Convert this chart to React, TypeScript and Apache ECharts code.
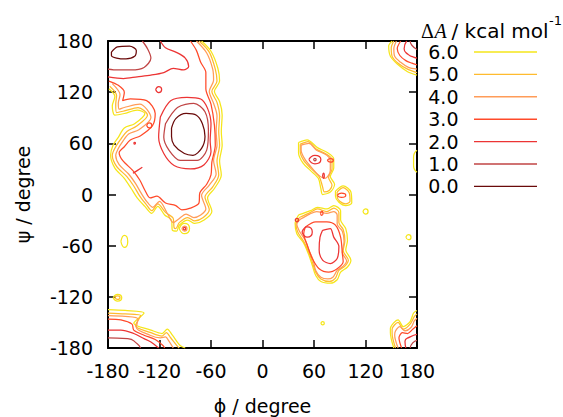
import React, { useEffect, useRef } from 'react';
import * as echarts from 'echarts';

// contour levels (kcal/mol) and their colours, top to bottom in the key
const levels = ['6.0', '5.0', '4.0', '3.0', '2.0', '1.0', '0.0'];
const levelColors = ['#f5e61a', '#ffbb2e', '#ff9c58', '#ff4a2a', '#ec3434', '#c04545', '#6a0a0a'];

const axisMin = -180;
const axisMax = 180;
const axisStep = 60;

// ---- big beta / alpha-R region (phi, psi in degrees) ----
const big6 = [[-71,180],[-60,168],[-52,148],[-50,133],[-56,121],[-50,109],[-47,93],[-48,74],[-47,58],[-50,39],[-48,23],[-56,7],[-64,-4],[-59,-20],[-68,-30],[-79,-34],[-87,-30],[-97,-36],[-100,-43],[-105,-42],[-106,-30],[-114,-24],[-122,-14],[-129,-22],[-137,-14],[-146,-4],[-153,7],[-161,19],[-172,31],[-177,46],[-174,58],[-168,67],[-161,78],[-149,83],[-137,95],[-146,99],[-161,95],[-172,93],[-175,104],[-172,115],[-179,124]];
const big5 = [[-74,180],[-62,167],[-55,147],[-53,133],[-59,121],[-53,108],[-50,92],[-51,74],[-50,58],[-53,39],[-51,23],[-58,9],[-67,-3],[-62,-18],[-69,-27],[-79,-31],[-87,-27],[-97,-33],[-101,-40],[-103,-39],[-104,-28],[-113,-21],[-122,-11],[-129,-19],[-136,-11],[-143,-2],[-150,10],[-158,21],[-170,33],[-175,46],[-171,56],[-165,65],[-158,74],[-147,80],[-134,93],[-145,102],[-161,98],[-170,96],[-171,106],[-170,116],[-178,127]];
const big4 = [[-77,180],[-65,166],[-58,147],[-57,134],[-62,121],[-57,107],[-53,92],[-54,74],[-53,58],[-57,40],[-54,24],[-62,11],[-71,-1],[-66,-17],[-72,-24],[-80,-27],[-89,-23],[-98,-29],[-104,-33],[-111,-22],[-120,-8],[-128,-15],[-135,-8],[-141,1],[-148,13],[-156,24],[-167,35],[-171,46],[-168,54],[-163,62],[-156,71],[-144,76],[-130,90],[-143,106],[-161,102],[-167,100],[-168,107],[-166,117],[-175,130]];
const big3 = [[-84,180],[-77,169],[-72,155],[-66,143],[-66,124],[-60,106],[-56,81],[-55,58],[-59,38],[-60,23],[-65,12],[-73,2],[-74,-10],[-84,-16],[-94,-18],[-101,-13],[-113,-10],[-123,-2],[-131,-4],[-137,5],[-143,17],[-151,28],[-163,40],[-167,49],[-161,56],[-154,64],[-142,69],[-128,81],[-125,95],[-135,110],[-154,112],[-163,110],[-161,120],[-168,128],[-179,133]];
const ring2 = [[-119,91],[-107,110],[-88,114],[-72,112],[-64,101],[-60,83],[-61,63],[-60,50],[-68,35],[-84,30],[-103,34],[-115,48],[-121,67],[-119,91]];
const upper2 = [[-180,138],[-162,136],[-146,138],[-130,140],[-115,143],[-104,148],[-92,146],[-86,150],[-90,160],[-101,167],[-113,172],[-119,180]];
const stroke2 = [[-151,25],[-146,28],[-140,32]];
const ring1 = [[-113,83],[-99,102],[-80,107],[-67,97],[-63,75],[-65,52],[-76,40],[-96,40],[-109,52],[-115,67],[-113,83]];
const arc1 = [[-180,147],[-169,146],[-153,146],[-138,149],[-130,160],[-134,171],[-140,180]];
const oval0Top = [[-176,167],[-169,173],[-155,174],[-147,169],[-149,162],[-159,159],[-170,160],[-176,163],[-176,167]];
const oval0Mid = [[-106,78],[-101,89],[-89,95],[-77,93],[-70,83],[-67,68],[-71,54],[-81,46],[-91,48],[-103,58],[-106,68],[-106,78]];

// ---- corners ----
const tr6 = [[151,180],[147,174],[149,162],[157,153],[169,144],[180,140]];
const tr5 = [[153,180],[150,172],[151,162],[158,154],[169,147],[180,143]];
const tr4 = [[156,180],[153,171],[154,162],[161,155],[170,149],[180,147]];
const tr3 = [[161,180],[157,171],[160,163],[167,157],[174,154],[180,152]];
const tr2 = [[168,180],[165,171],[170,164],[176,161],[180,160]];
const tr1 = [[172,180],[174,175],[180,170]];
const br6 = [[153,-180],[149,-162],[149,-157],[158,-147],[164,-155],[172,-149],[176,-139],[180,-136]];
const br5 = [[155,-180],[151,-163],[151,-158],[158,-150],[164,-158],[172,-152],[177,-143],[180,-140]];
const br4 = [[158,-180],[154,-165],[155,-160],[160,-155],[166,-160],[173,-156],[177,-148],[180,-145]];
const br3 = [[162,-180],[159,-168],[163,-162],[169,-163],[175,-158],[180,-154]];
const br2 = [[167,-180],[166,-172],[172,-167],[180,-164]];
const br1 = [[172,-180],[175,-174],[180,-171]];
const bl6 = [[-180,-135],[-160,-136],[-138,-139],[-150,-151],[-130,-159],[-117,-163],[-111,-158],[-105,-165],[-96,-177],[-90,-180]];
const bl5 = [[-180,-139],[-160,-140],[-142,-142],[-148,-154],[-130,-162],[-117,-166],[-112,-162],[-107,-168],[-99,-178],[-97,-180]];
const bl4 = [[-180,-142],[-160,-143],[-145,-146],[-147,-156],[-131,-165],[-119,-168],[-113,-167],[-109,-172],[-104,-180]];
const bl3 = [[-180,-146],[-165,-147],[-152,-152],[-150,-159],[-138,-165],[-125,-170],[-116,-177],[-114,-180]];
const bl2 = [[-180,-159],[-165,-159],[-150,-163],[-138,-169],[-130,-173],[-121,-180]];
const bl1 = [[-180,-168],[-157,-169],[-146,-175],[-142,-180]];
const edge6 = [[180,52],[176,44],[176,34],[180,26]];

// ---- alpha-L region ----
const lobeUp6 = [[42,61],[52,64],[64,55],[76,49],[83,42],[83,31],[79,21],[84,12],[79,3],[70,0],[68,7],[65,19],[56,28],[47,37],[42,49],[42,61]];
const lobeUp5 = [[44,59],[53,62],[63,53],[75,47],[81,41],[81,30],[77,20],[81,11],[78,5],[72,3],[70,9],[66,21],[56,31],[48,40],[44,50],[44,59]];
const lobeUp4 = [[45,58],[54,60],[63,52],[75,46],[79,40],[79,28],[73,19],[65,23],[56,33],[49,42],[45,52],[45,58]];
const islet6 = [[85,4],[94,10],[103,3],[104,-10],[97,-13],[89,-9],[85,-2],[85,4]];
const islet5 = [[87,3],[94,8],[101,2],[102,-8],[97,-11],[90,-8],[87,-2],[87,3]];
const lobeLow6 = [[42,-24],[56,-19],[64,-15],[75,-17],[83,-13],[91,-19],[91,-30],[97,-40],[99,-54],[97,-65],[103,-77],[99,-85],[91,-91],[87,-100],[79,-104],[68,-102],[62,-95],[58,-83],[54,-71],[48,-57],[40,-46],[38,-34],[42,-24]];
const lobeLow5 = [[43,-27],[56,-21],[64,-17],[75,-20],[83,-16],[89,-21],[89,-33],[94,-41],[96,-54],[94,-66],[100,-77],[96,-84],[89,-89],[85,-98],[78,-102],[68,-99],[62,-91],[58,-79],[54,-68],[48,-55],[41,-44],[39,-35],[43,-27]];
const lobeLow4 = [[44,-29],[55,-23],[63,-20],[75,-22],[83,-20],[87,-24],[87,-35],[93,-43],[95,-55],[93,-68],[98,-78],[94,-84],[87,-89],[82,-97],[76,-99],[68,-97],[62,-89],[59,-77],[54,-65],[50,-54],[43,-43],[40,-35],[44,-29]];
const lobeLow3 = [[50,-38],[62,-32],[75,-32],[85,-36],[91,-50],[93,-69],[94,-79],[87,-87],[77,-91],[66,-87],[58,-75],[52,-59],[48,-46],[50,-38]];
const lobeLow2 = [[70,-42],[79,-40],[83,-50],[89,-61],[87,-75],[79,-81],[70,-77],[66,-65],[67,-50],[70,-42]];

// ---- small closed loops ----
const loops6 = [
  [[-97,-40],[-91,-34],[-85,-40],[-91,-46],[-97,-40]],
  [[-174,-121],[-169,-117],[-164,-121],[-169,-125],[-174,-121]],
  [[-165,-55],[-161,-48],[-157,-55],[-161,-62],[-165,-55]],
  [[117,-20],[120,-17],[123,-20],[120,-23],[117,-20]],
  [[167,-50],[170,-47],[173,-50],[170,-53],[167,-50]],
  [[68,-151],[70,-149],[72,-151],[70,-153],[68,-151]],
];
const loops5 = [
  [[-172,-121],[-169,-119],[-166,-121],[-169,-123],[-172,-121]],
];
const loops4 = [
  [[-94,-40],[-91,-37],[-88,-40],[-91,-43],[-94,-40]],
];
const loops3 = [
  [[-135,81],[-132,84],[-129,81],[-132,78],[-135,81]],
  [[75.5,40],[79,42],[82.5,40],[79,38],[75.5,40]],
  [[87,-1],[92,1.5],[97,-1],[92,-3.5],[87,-1]],
  [[67.5,-22],[69,-19.5],[70.5,-22],[69,-24.5],[67.5,-22]],
];
const loops2 = [
  [[-124.5,123],[-121,126.5],[-117.5,123],[-121,119.5],[-124.5,123]],
  [[-92.5,-40],[-91,-38.5],[-89.5,-40],[-91,-41.5],[-92.5,-40]],
  [[54,41],[61,46],[68,41],[61,36],[54,41]],
  [[70,22],[71,25],[72,22],[71,19],[70,22]],
  [[46,-44],[52,-38],[58,-44],[52,-50],[46,-44]],
  [[38,-30],[40,-28],[42,-30],[40,-32],[38,-30]],
  [[-150,60],[-149,61],[-148,60],[-149,59],[-150,60]],
];
const loops1 = [
  [[59.5,41],[61,42.5],[62.5,41],[61,39.5],[59.5,41]],
];

const contourSets: [number, number[][][]][] = [
  [0, [big6, tr6, br6, bl6, edge6, lobeUp6, islet6, lobeLow6, ...loops6]],
  [1, [big5, tr5, br5, bl5, lobeUp5, islet5, lobeLow5, ...loops5]],
  [2, [big4, tr4, br4, bl4, lobeUp4, lobeLow4, ...loops4]],
  [3, [big3, tr3, br3, bl3, lobeLow3, ...loops3]],
  [4, [ring2, upper2, stroke2, tr2, br2, bl2, lobeLow2, ...loops2]],
  [5, [ring1, arc1, tr1, br1, bl1, ...loops1]],
  [6, [oval0Top, oval0Mid]],
];

const FONT = 'DejaVu Sans';

function buildOption() {
  const series: any[] = [];
  contourSets.forEach(([li, lines]) => {
    lines.forEach((pts) => {
      series.push({
        type: 'line',
        name: levels[li],
        data: pts,
        xAxisIndex: 0,
        yAxisIndex: 0,
        symbol: 'none',
        showSymbol: false,
        smooth: pts.length <= 5 ? 0.6 : 0.3,
        silent: true,
        z: 3 + li,
        lineStyle: { color: levelColors[li], width: 1.25 },
        itemStyle: { color: levelColors[li] },
      });
    });
  });

  const axisBase = {
    type: 'value',
    min: axisMin,
    max: axisMax,
    interval: axisStep,
    splitLine: { show: false },
    axisLine: { show: true, onZero: false, lineStyle: { color: '#000', width: 2 } },
    axisTick: { show: true, inside: true, length: 8, lineStyle: { color: '#000', width: 1.5 } },
  };
  const labelStyle = { color: '#000', fontSize: 19, fontFamily: FONT, showMinLabel: true, showMaxLabel: true };

  const graphic: any[] = [];
  levels.forEach((lv, i) => {
    const y = 52 + i * 22.4;
    graphic.push({
      type: 'text',
      style: { text: lv, x: 458.5, y, align: 'right', verticalAlign: 'middle', fontSize: 19, fontFamily: FONT, fill: '#000' },
    });
    graphic.push({
      type: 'line',
      shape: { x1: 474, y1: y, x2: 537, y2: y },
      style: { stroke: levelColors[i], lineWidth: 1.4 },
    });
  });
  graphic.push(
    { type: 'text', style: { text: 'Δ', x: 421, y: 30.5, verticalAlign: 'middle', fontSize: 20, fontFamily: 'Liberation Serif', fill: '#000' } },
    { type: 'text', style: { text: 'A', x: 434.5, y: 30.5, verticalAlign: 'middle', fontSize: 20, fontStyle: 'italic', fontFamily: 'Liberation Serif', fill: '#000' } },
    { type: 'text', style: { text: '/ kcal mol', x: 451.5, y: 30.5, verticalAlign: 'middle', fontSize: 20, fontFamily: FONT, fill: '#000' } },
    { type: 'text', style: { text: '-1', x: 549, y: 20.5, verticalAlign: 'middle', fontSize: 13, fontFamily: FONT, fill: '#000' } },
  );

  return {
    animation: false,
    backgroundColor: '#fff',
    grid: { left: 108, right: 146, top: 41, bottom: 69, containLabel: false, outerBoundsMode: 'none' },
    xAxis: [
      {
        ...axisBase,
        position: 'bottom',
        axisLabel: { ...labelStyle, margin: 13 },
        name: 'ϕ / degree',
        nameLocation: 'middle',
        nameGap: 48,
        nameTextStyle: { color: '#000', fontSize: 19, fontFamily: FONT },
      },
      { ...axisBase, position: 'top', axisLabel: { show: false } },
    ],
    yAxis: [
      {
        ...axisBase,
        position: 'left',
        axisLabel: { ...labelStyle, margin: 15 },
        name: 'ψ / degree',
        nameLocation: 'middle',
        nameRotate: 90,
        nameGap: 76,
        nameTextStyle: { color: '#000', fontSize: 19, fontFamily: FONT },
      },
      { ...axisBase, position: 'right', axisLabel: { show: false } },
    ],
    graphic,
    series,
  };
}

export default function App() {
  const ref = useRef<HTMLDivElement>(null);
  useEffect(() => {
    const chart = echarts.init(ref.current!, null, { renderer: 'svg' });
    chart.setOption(buildOption() as any);
    return () => chart.dispose();
  }, []);
  return (
    <div
      ref={ref}
      style={{ position: 'absolute', left: 0, top: 0, width: 563, height: 417, background: '#fff' }}
    />
  );
}
